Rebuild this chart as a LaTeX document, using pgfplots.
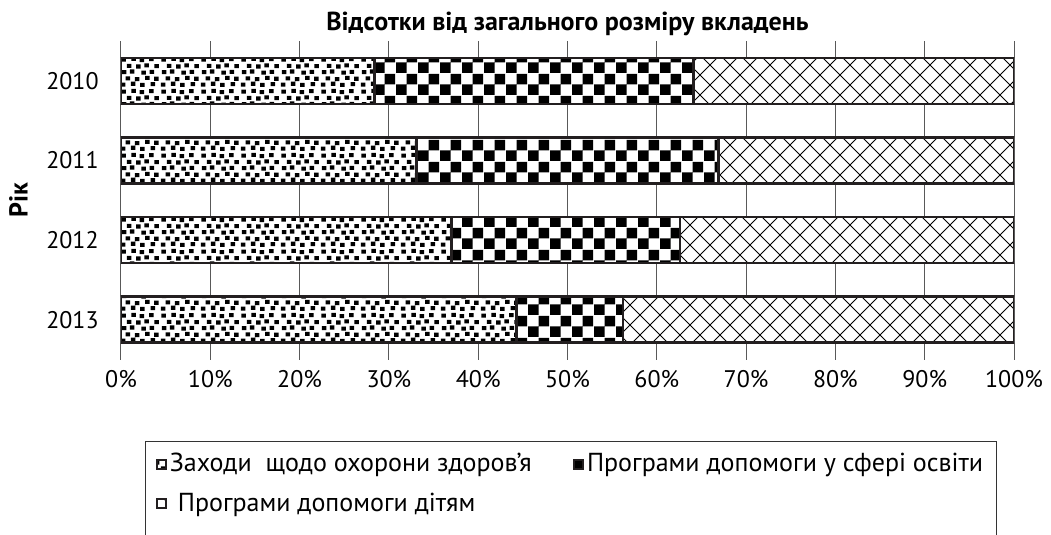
\documentclass[border=0pt]{standalone}
\usepackage{fontspec}
\setmainfont{PT Sans}
\usepackage{pgfplots}
\usepackage{pgfplotstable}
\pgfplotsset{compat=1.18}
\usetikzlibrary{patterns}

\newcommand\cfdot[2]{\pgfpathrectangle{\pgfqpoint{#1pt}{#2pt}}{\pgfqpoint{2.3pt}{2.1pt}}}
\pgfdeclarepatternformonly{myconfetti}{\pgfpointorigin}{\pgfqpoint{20pt}{16pt}}{\pgfqpoint{20pt}{16pt}}{%
  \cfdot{0.4}{0.2}\cfdot{5.5}{0.6}\cfdot{10.3}{0.0}\cfdot{15.6}{0.4}%
  \cfdot{2.9}{3.4}\cfdot{7.6}{3.0}\cfdot{12.8}{3.6}\cfdot{17.4}{3.2}%
  \cfdot{1.0}{6.6}\cfdot{5.1}{6.9}\cfdot{10.9}{6.3}\cfdot{15.2}{6.7}%
  \cfdot{3.5}{9.8}\cfdot{8.2}{9.5}\cfdot{12.5}{10.1}\cfdot{17.6}{9.7}%
  \cfdot{0.7}{13.0}\cfdot{5.8}{13.4}\cfdot{10.0}{12.8}\cfdot{14.9}{13.3}%
  \pgfusepath{fill}}

\pgfdeclarepatternformonly{mychecker}{\pgfpointorigin}{\pgfqpoint{11pt}{11pt}}{\pgfqpoint{11pt}{11pt}}{%
  \pgfpathrectangle{\pgfpointorigin}{\pgfqpoint{5.5pt}{5.5pt}}%
  \pgfpathrectangle{\pgfqpoint{5.5pt}{5.5pt}}{\pgfqpoint{5.5pt}{5.5pt}}%
  \pgfusepath{fill}}

\pgfdeclarepatternformonly{mydiamond}{\pgfqpoint{-0.5pt}{-0.5pt}}{\pgfqpoint{10.5pt}{10.5pt}}{\pgfqpoint{10pt}{10pt}}{%
  \pgfsetlinewidth{0.5pt}%
  \pgfpathmoveto{\pgfqpoint{0pt}{0pt}}\pgfpathlineto{\pgfqpoint{10pt}{10pt}}%
  \pgfpathmoveto{\pgfqpoint{0pt}{10pt}}\pgfpathlineto{\pgfqpoint{10pt}{0pt}}%
  \pgfusepath{stroke}}

\pgfplotstableread{
y a b c
0 28.4 35.7 35.9
1 33.1 33.8 33.1
2 37.0 25.6 37.4
3 44.3 11.9 43.8
}\data

\definecolor{barline}{HTML}{231F20}

\pgfplotsset{myleg/.style={legend image code/.code={%
  \draw[##1,line width=1.1pt] (0pt,-2.3pt) rectangle (4.6pt,2.3pt);}}}

\begin{document}
\fontsize{12pt}{14pt}\selectfont
\begin{tikzpicture}
\begin{axis}[
  name=ax,
  scale only axis,
  width=446.5pt, height=159.25pt,
  xbar stacked,
  bar width=23pt,
  xmin=0, xmax=100,
  ymin=-0.5, ymax=3.5,
  y dir=reverse,
  ytick={0,1,2,3},
  yticklabels={2010,2011,2012,2013},
  xtick={0,10,...,100},
  xticklabels={0\%,10\%,20\%,30\%,40\%,50\%,60\%,70\%,80\%,90\%,100\%},
  axis line style={draw=none},
  major tick length=0pt,
  tick style={draw=none},
  xmajorgrids,
  grid style={black!65, line width=0.5pt},
  yticklabel style={xshift=-7pt},
  xticklabel style={yshift=-1pt},
  ylabel={Рік},
  ylabel style={at={(axis description cs:-0.115,0.5)}, anchor=center, font=\fontsize{13pt}{15pt}\selectfont\bfseries},
  title={Відсотки від загального розміру вкладень},
  title style={at={(axis description cs:0.5,1)}, anchor=base, yshift=-0.5pt, font=\fontsize{13pt}{15pt}\selectfont\bfseries},
  legend columns=2,
  legend cell align=left,
  legend style={
    at={(axis description cs:0.0269,-0.255)}, anchor=north west,
    draw=black!80, line width=0.5pt, fill=white,
    font=\fontsize{13pt}{15pt}\selectfont,
    inner xsep=5pt, inner ysep=4pt,
    row sep=4pt,
    nodes={inner xsep=1.5pt},
    /tikz/every even column/.append style={column sep=19pt},
  },
]
\addplot[draw=barline, line width=1.3pt, fill=white, postaction={pattern=myconfetti}, myleg] table[x=a,y=y]{\data};
\addlegendentry{Заходи~ щодо охорони здоров’я}
\addplot[draw=barline, line width=1.3pt, fill=white, postaction={pattern=mychecker}, myleg] table[x=b,y=y]{\data};
\addlegendentry{Програми допомоги у сфері освіти}
\addplot[draw=barline, line width=1.3pt, fill=white, postaction={pattern=mydiamond}, myleg] table[x=c,y=y]{\data};
\addlegendentry{\hspace{4pt}Програми допомоги дітям}
\addlegendimage{empty legend}\addlegendentry{\strut}
\addlegendimage{empty legend}\addlegendentry{\strut}
\end{axis}
\pgfresetboundingbox
\useasboundingbox ([shift={(-60.5pt,-87.75pt)}]ax.south west) rectangle ([shift={(465pt,20.5pt)}]ax.north west);
\end{tikzpicture}
\end{document}
